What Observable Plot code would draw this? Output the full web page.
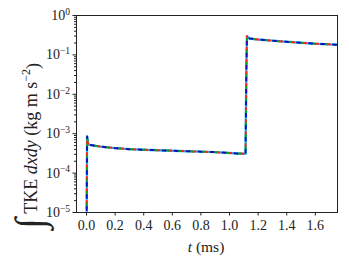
<!DOCTYPE html>
<html><head><meta charset="utf-8">
<script src="https://cdn.jsdelivr.net/npm/d3@7"></script>
<script src="https://cdn.jsdelivr.net/npm/@observablehq/plot@0.6"></script>
<style>body{margin:0;background:#fff}</style>
</head><body><div id="chart"></div>
<script>
const times = [0.0, 0.004, 0.008, 0.012, 0.02, 0.05, 0.1, 0.2, 0.3, 0.4, 0.5, 0.6, 0.7, 0.8, 0.9, 1.0, 1.05, 1.1, 1.112, 1.118, 1.122, 1.126, 1.14, 1.2, 1.3, 1.4, 1.5, 1.6, 1.7, 1.76];
const tke = [1e-6, 8.5e-4, 6.5e-4, 5.4e-4, 5.2e-4, 5.0e-4, 4.7e-4, 4.3e-4, 4.05e-4, 3.9e-4, 3.8e-4, 3.7e-4, 3.6e-4, 3.5e-4, 3.4e-4, 3.25e-4, 3.15e-4, 3.1e-4, 3.1e-4, 0.05, 0.3, 0.29, 0.26, 0.245, 0.23, 0.215, 0.203, 0.192, 0.185, 0.18];
const seriesNames = ["a", "b", "c", "d"];
const seriesColors = ["#22c4f0", "#ff2020", "#10a020", "#1010c0"];
const xTicks = [0, 0.2, 0.4, 0.6, 0.8, 1.0, 1.2, 1.4, 1.6];
const yTicks = [1e-5, 1e-4, 1e-3, 1e-2, 1e-1, 1];

const data = times.map((t, i) => ({t, v: tke[i]}));
const minor = [];
for (let e = -5; e < 0; e++) for (let k = 2; k <= 9; k++) minor.push(k * Math.pow(10, e));

const font = "'Liberation Serif', 'DejaVu Serif', serif";
const dashStyles = [null, "3,9", "3,9", "3,9"];
const offsets = [0, 0, 3, 6];

const lineMarks = seriesNames.map((s, i) => Plot.line(data, {
  x: "t", y: "v", stroke: seriesColors[i],
  strokeWidth: i === 0 ? 2.4 : 2,
  strokeDasharray: dashStyles[i] || undefined,
  strokeDashoffset: offsets[i],
  clip: true
}));

const chart = Plot.plot({
  width: 349, height: 262,
  marginLeft: 76, marginRight: 12, marginTop: 15, marginBottom: 50,
  style: {fontFamily: font, fontSize: "14px", color: "#222", background: "#fff"},
  x: {domain: [-0.07, 1.755], ticks: xTicks, tickFormat: d3.format(".1f"), label: null},
  y: {type: "log", domain: [1e-5, 1], ticks: yTicks, label: null},
  marks: [
    ...lineMarks,
    Plot.axisX({ticks: xTicks, tickFormat: d3.format(".1f"), tickSize: 3.5, tickPadding: 4, label: null}),
    Plot.axisY({ticks: yTicks, tickFormat: d => "E" + Math.round(Math.log10(d)), tickSize: 3.5, tickPadding: 3, label: null}),
    Plot.axisY({ticks: minor, tickSize: 2, tickFormat: () => "", label: null}),
    Plot.frame({stroke: "#222", strokeWidth: 1})
  ]
});

// superscript exponents on y tick labels
d3.select(chart).selectAll("text").each(function() {
  const el = d3.select(this);
  const txt = el.text();
  if (/^E-?\d+$/.test(txt)) {
    const ex = txt.slice(1).replace("-", "\u2212");
    el.text(null);
    el.append("tspan").text("10");
    el.append("tspan").attr("dy", "-0.55em").attr("font-size", "9.5px").text(ex);
  }
});

const svg = d3.select(chart);
// x label
const xl = svg.append("text").attr("x", 206).attr("y", 252).attr("text-anchor", "middle")
  .attr("font-family", font).attr("font-size", "15.5px").attr("fill", "#222");
xl.append("tspan").attr("font-style", "italic").text("t");
xl.append("tspan").text(" (ms)");

// y label
const yl = svg.append("text").attr("transform", "translate(37,146) rotate(-90)")
  .attr("text-anchor", "middle").attr("font-family", font).attr("font-size", "18px").attr("fill", "#222");
yl.append("tspan").attr("font-size", "40px").attr("dy", "6").text("\u222B");
yl.append("tspan").attr("dy", "-6").text(" TKE ");
yl.append("tspan").attr("font-style", "italic").text("dxdy");
yl.append("tspan").text(" (kg m s");
yl.append("tspan").attr("dy", "-0.55em").attr("font-size", "12px").text("\u22122");
yl.append("tspan").attr("dy", "0.45em").text(")");

document.getElementById("chart").appendChild(chart);
</script>
</body></html>
